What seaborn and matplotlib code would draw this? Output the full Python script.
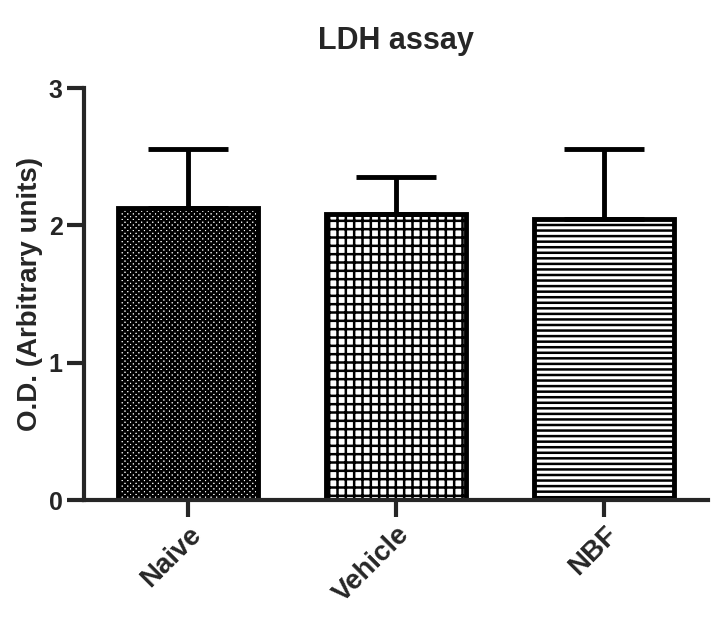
import matplotlib
matplotlib.use("Agg")
import matplotlib.pyplot as plt
import seaborn as sns
import numpy as np
import pandas as pd

groups = ["Naive", "Vehicle", "NBF"]
means = [2.13, 2.08, 2.05]
upper = [2.56, 2.35, 2.56]
hatches = ["xxxxxx", "++", "---"]

sns.set_style("ticks")
plt.rcParams['font.family'] = ['Liberation Sans', 'DejaVu Sans']
plt.rcParams['hatch.linewidth'] = 1.8

fig = plt.figure(figsize=(7.13, 6.25), dpi=100)
ax = fig.add_axes([0.118, 0.2, 0.875, 0.659])
df = pd.DataFrame({"g": groups, "v": means})
sns.barplot(data=df, x="g", y="v", ax=ax, color="white", width=0.67,
            edgecolor="black", linewidth=3.5)
for p, h in zip(ax.patches, hatches):
    p.set_hatch(h)
err = np.array(upper) - np.array(means)
ax.errorbar(range(3), means, yerr=[np.zeros(3), err], fmt="none",
            ecolor="black", elinewidth=3.5, capsize=29, capthick=3.5)
ax.set_ylim(0, 3)
ax.set_xlim(-0.5, 2.5)
ax.set_yticks([0, 1, 2, 3])
ax.set_xlabel("")
ax.set_ylabel("O.D. (Arbitrary units)", fontsize=20, fontweight="bold")
ax.set_title("LDH assay", fontsize=22, fontweight="bold", pad=28)
ax.tick_params(axis="both", width=3, length=12, labelsize=18)
for lab in ax.get_yticklabels():
    lab.set_fontweight("bold")
ax.set_xticks(range(3))
ax.set_xticklabels(groups, rotation=45, ha="right", rotation_mode="anchor",
                   fontweight="bold", fontsize=20)
sns.despine(ax=ax)
for s in ["left", "bottom"]:
    ax.spines[s].set_linewidth(3)
fig.savefig("out.png", dpi=100)
